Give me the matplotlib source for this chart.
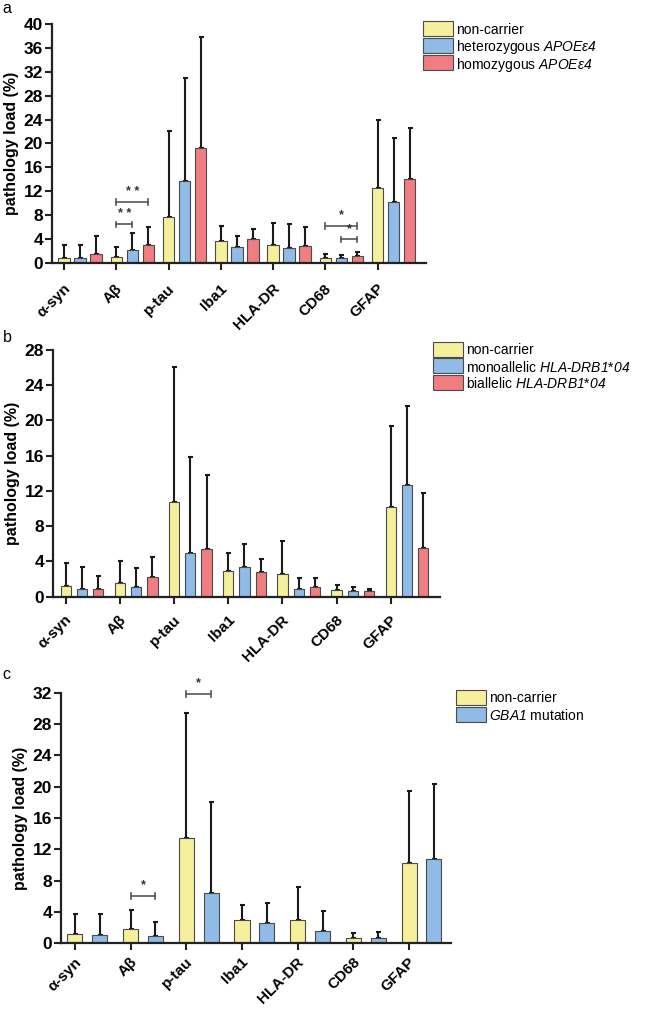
import matplotlib
matplotlib.use('Agg')
import matplotlib.pyplot as plt
import matplotlib.patches as mpatches
import matplotlib.transforms as mtransforms
import numpy as np

plt.rcParams['font.family'] = ['Liberation Sans', 'DejaVu Sans']
# everything inside $...$ is the italic gene name part of the legend
plt.rcParams['mathtext.fontset'] = 'custom'
plt.rcParams['mathtext.rm'] = 'Liberation Sans:italic'
plt.rcParams['mathtext.it'] = 'Liberation Sans:italic'
plt.rcParams['mathtext.bf'] = 'Liberation Sans:italic'

W, H = 646, 1014

markers = ['α-syn', 'Aβ', 'p-tau', 'Iba1', 'HLA-DR', 'CD68', 'GFAP']

# panel a: APOE e4
apoe_labels = ['non-carrier', 'heterozygous $\\mathit{APOEε4}$', 'homozygous $\\mathit{APOEε4}$']
apoe_mean_non = [0.7, 0.9, 7.7, 3.6, 2.9, 0.8, 12.6]
apoe_sd_non = [2.2, 1.8, 14.4, 2.5, 3.8, 0.65, 11.3]
apoe_mean_het = [0.8, 2.1, 13.7, 2.7, 2.4, 0.75, 10.2]
apoe_sd_het = [2.2, 2.8, 17.3, 1.8, 4.0, 0.45, 10.8]
apoe_mean_hom = [1.4, 2.9, 19.3, 3.9, 2.8, 1.1, 14.1]
apoe_sd_hom = [3.1, 3.0, 18.5, 1.7, 3.2, 0.7, 8.5]
# (marker index, group from, group to, height, stars)
apoe_sig = [(1, 0, 2, 10.2, '* *'), (1, 0, 1, 6.4, '* *'), (5, 0, 2, 6.2, '*'), (5, 1, 2, 3.9, '*')]

# panel b: HLA-DRB1*04
hla_labels = ['non-carrier', 'monoallelic $\\mathit{HLA}$-$\\mathit{DRB1}$*$\\mathit{04}$',
              'biallelic $\\mathit{HLA}$-$\\mathit{DRB1}$*$\\mathit{04}$']
hla_mean_non = [1.2, 1.55, 10.7, 2.9, 2.6, 0.72, 10.2]
hla_sd_non = [2.6, 2.45, 15.3, 2.1, 3.75, 0.64, 9.2]
hla_mean_mono = [0.9, 1.1, 5.0, 3.4, 0.83, 0.6, 12.65]
hla_sd_mono = [2.5, 2.15, 10.9, 2.6, 1.27, 0.5, 8.95]
hla_mean_bi = [0.87, 2.2, 5.4, 2.85, 1.06, 0.6, 5.55]
hla_sd_bi = [1.48, 2.35, 8.45, 1.4, 1.02, 0.23, 6.25]
hla_sig = []

# panel c: GBA1
gba_labels = ['non-carrier', '$\\mathit{GBA1}$ mutation']
gba_mean_non = [1.2, 1.87, 13.47, 2.97, 3.02, 0.72, 10.3]
gba_sd_non = [2.54, 2.42, 15.98, 1.87, 4.2, 0.58, 9.1]
gba_mean_mut = [1.1, 0.93, 6.46, 2.63, 1.6, 0.72, 10.75]
gba_sd_mut = [2.64, 1.75, 11.6, 2.47, 2.5, 0.78, 9.55]
gba_sig = [(1, 0, 1, 6.1, '*'), (2, 0, 1, 31.8, '*')]

colors = ['#f5f09c', '#8fbbe6', '#ef7d82']
edge = '#4a4a4a'


def px_legend(fig, labels, left, top, step):
    # legend boxes placed in figure pixels (same layout as the prism export)
    for k, lab in enumerate(labels):
        yc = top + k * step
        fig.add_artist(mpatches.Rectangle((left / W, 1 - (yc + 7.5) / H), 30 / W, 15 / H,
                                          transform=fig.transFigure, facecolor=colors[k],
                                          edgecolor=edge, linewidth=0.8))
        fig.text((left + 33) / W, 1 - yc / H, lab, fontsize=10, va='center_baseline', ha='left')


def draw_panel(fig, rect, means, sds, sig, ymax, step, off, width, xlim, xpad):
    ax = fig.add_axes(rect)
    x = np.arange(len(markers))
    for k in range(len(means)):
        pos = x + k * off
        ax.bar(pos, means[k], width, color=colors[k], edgecolor=edge, linewidth=0.8, zorder=2)
        ax.errorbar(pos, means[k], yerr=[np.zeros(len(markers)), sds[k]], fmt='none',
                    ecolor='#1a1a1a', elinewidth=1.5, capsize=1.8, capthick=1.5, zorder=1)
    for (i, g1, g2, h, s) in sig:
        x1 = i + g1 * off
        x2 = i + g2 * off
        d = ymax * 0.012
        ax.plot([x1, x2], [h, h], color='#555555', lw=1.2, clip_on=False)
        ax.plot([x1, x1], [h - d, h + d], color='#555555', lw=1.2, clip_on=False)
        ax.plot([x2, x2], [h - d, h + d], color='#555555', lw=1.2, clip_on=False)
        ax.text((x1 + x2) / 2, h + ymax * 0.018, s, ha='center', va='bottom', fontsize=9,
                fontweight='bold', color='#333333')
    ax.set_ylim(0, ymax)
    ax.set_xlim(*xlim)
    for sp in ['top', 'right']:
        ax.spines[sp].set_visible(False)
    for sp in ['left', 'bottom']:
        ax.spines[sp].set_linewidth(1.6)
        ax.spines[sp].set_color('#222222')
    ax.tick_params(axis='both', length=5, width=1.5, color='#222222', pad=1.5)
    ax.tick_params(axis='x', pad=xpad, labelrotation=45)
    ax.set_yticks(np.arange(0, ymax + 0.1, step))
    ax.set_yticklabels([str(int(v)) for v in ax.get_yticks()], fontsize=12.5, fontweight='bold')
    ax.set_xticks(x)
    ax.set_xticklabels(markers, fontsize=11, fontweight='bold')
    shift = mtransforms.ScaledTranslation(3 / 72, 0, fig.dpi_scale_trans)
    for lab in ax.get_xticklabels():
        lab.set_rotation(45)
        lab.set_rotation_mode('anchor')
        lab.set_ha('right')
        lab.set_va('center')
        lab.set_transform(lab.get_transform() + shift)
    ax.set_ylabel('pathology load (%)', fontsize=11.5, fontweight='bold', labelpad=3)
    return ax


fig = plt.figure(figsize=(W / 100, H / 100), dpi=100)

draw_panel(fig, [0.0805, 0.741, 0.5785, 0.235],
           [apoe_mean_non, apoe_mean_het, apoe_mean_hom],
           [apoe_sd_non, apoe_sd_het, apoe_sd_hom],
           apoe_sig, 40, 4, 0.306, 0.22, (-0.23, 6.92), 12)
px_legend(fig, apoe_labels, 423, 28, 17)
fig.text(0.004, 0.999, 'a', fontsize=11.5, va='top', ha='left')

draw_panel(fig, [0.082, 0.4115, 0.599, 0.2435],
           [hla_mean_non, hla_mean_mono, hla_mean_bi],
           [hla_sd_non, hla_sd_mono, hla_sd_bi],
           hla_sig, 28, 4, 0.30, 0.19, (-0.234, 6.906), 10)
px_legend(fig, hla_labels, 433, 349, 16.5)
fig.text(0.004, 0.675, 'b', fontsize=11.5, va='top', ha='left')

draw_panel(fig, [0.0944, 0.0697, 0.6036, 0.2473],
           [gba_mean_non, gba_mean_mut],
           [gba_sd_non, gba_sd_mut],
           gba_sig, 32, 4, 0.446, 0.27, (-0.25, 6.75), 7)
px_legend(fig, gba_labels, 456, 697, 17)
fig.text(0.004, 0.342, 'c', fontsize=11.5, va='top', ha='left')

plt.savefig('out.png', dpi=100)
